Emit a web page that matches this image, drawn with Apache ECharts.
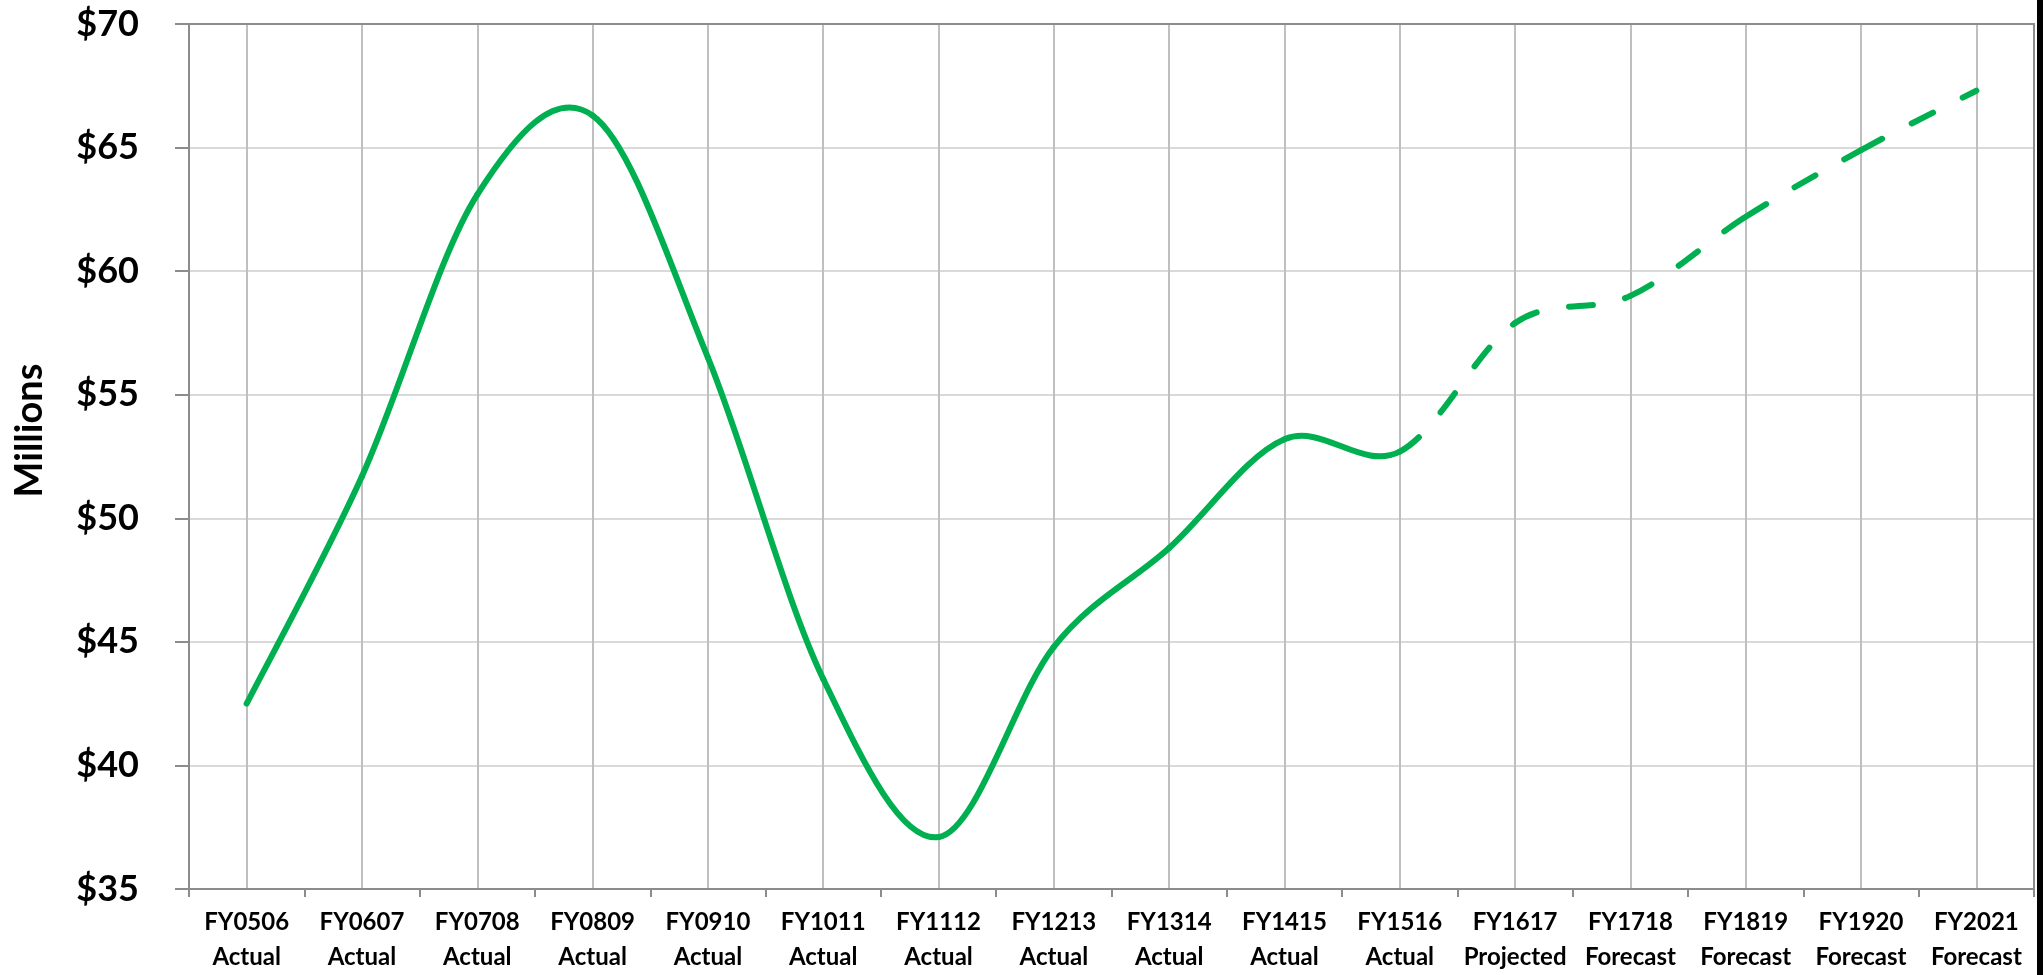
<!DOCTYPE html>
<html>
<head>
<meta charset="utf-8">
<script src="https://cdn.jsdelivr.net/npm/echarts@6/dist/echarts.min.js"></script>
<style>
  html, body { margin: 0; padding: 0; background: #fff; }
  #chart { width: 2043px; height: 975px; }
</style>
</head>
<body>
<div id="chart"></div>
<script>
// categories (two-line labels)
const years = ['FY0506', 'FY0607', 'FY0708', 'FY0809', 'FY0910', 'FY1011', 'FY1112', 'FY1213',
  'FY1314', 'FY1415', 'FY1516', 'FY1617', 'FY1718', 'FY1819', 'FY1920', 'FY2021'];
const kinds = ['Actual', 'Actual', 'Actual', 'Actual', 'Actual', 'Actual', 'Actual', 'Actual',
  'Actual', 'Actual', 'Actual', 'Projected', 'Forecast', 'Forecast', 'Forecast', 'Forecast'];
// $ millions
const actual = [42.5, 51.7, 63.1, 66.3, 56.5, 43.5, 37.1, 44.8, 48.8, 53.2, 52.7];
const outlook = [57.9, 59.0, 62.2, 64.9, 67.3];   // FY1617 .. FY2021
const yMin = 35, yMax = 70, yStep = 5;

const categories = years.map((y, i) => y + '\n' + kinds[i]);
const values = actual.concat(outlook);
const green = '#00b050';
const font = 'Lato';

// excel style smoothed line: one bezier per segment, dashed after the last actual
function renderSegment(params, api) {
  const i = params.dataIndex;
  const n = values.length;
  if (i >= n - 1) return null;
  const pt = k => {
    k = Math.max(0, Math.min(n - 1, k));
    return api.coord([k, values[k]]);
  };
  const p0 = pt(i - 1), p1 = pt(i), p2 = pt(i + 1), p3 = pt(i + 2);
  const dashed = i >= actual.length - 1;
  return {
    type: 'bezierCurve',
    silent: true,
    shape: {
      x1: p1[0], y1: p1[1],
      x2: p2[0], y2: p2[1],
      cpx1: p1[0] + (p2[0] - p0[0]) / 6, cpy1: p1[1] + (p2[1] - p0[1]) / 6,
      cpx2: p2[0] - (p3[0] - p1[0]) / 6, cpy2: p2[1] - (p3[1] - p1[1]) / 6
    },
    style: {
      fill: 'none',
      stroke: green,
      lineWidth: 6,
      lineCap: 'round',
      lineDash: dashed ? [24, 33] : null
    }
  };
}

const chart = echarts.init(document.getElementById('chart'));
chart.setOption({
  animation: false,
  textStyle: { fontFamily: font },
  grid: {
    left: 189, right: 9, top: 24, bottom: 86,
    show: true, z: 1,
    borderColor: '#8c8c8c', borderWidth: 2
  },
  graphic: [{
    type: 'rect', right: 0, top: 0, z: 10,
    shape: { width: 6, height: 975 },
    style: { fill: '#000' }
  }],
  xAxis: {
    type: 'category',
    data: categories,
    boundaryGap: true,
    axisLine: { lineStyle: { color: '#8c8c8c', width: 2 } },
    axisTick: { show: true, length: 8, lineStyle: { color: '#8c8c8c', width: 2 } },
    axisLabel: {
      interval: 0, margin: 16,
      fontFamily: font, fontWeight: 'bold', fontSize: 24, lineHeight: 35, color: '#000'
    },
    splitLine: { show: true, alignWithLabel: true, lineStyle: { color: '#bfbfbf', width: 2 } }
  },
  yAxis: {
    type: 'value',
    min: yMin, max: yMax, interval: yStep,
    name: 'Millions',
    nameLocation: 'middle',
    nameRotate: 90,
    nameGap: 140,
    nameTextStyle: {
      fontFamily: font, fontWeight: 'bold', fontSize: 38, color: '#000',
      padding: [0, 0, 0, 52]
    },
    axisLine: { show: true, lineStyle: { color: '#8c8c8c', width: 2 } },
    axisTick: { show: true, length: 14, lineStyle: { color: '#8c8c8c', width: 2 } },
    axisLabel: {
      margin: 50,
      formatter: v => '$' + v,
      fontFamily: font, fontWeight: 'bold', fontSize: 36, color: '#000'
    },
    splitLine: { show: true, lineStyle: { color: '#d9d9d9', width: 2 } }
  },
  series: [{
    name: 'Revenue',
    type: 'custom',
    z: 3,
    data: values.map((v, i) => [i, v]),
    encode: { x: 0, y: 1 },
    renderItem: renderSegment
  }]
});
</script>
</body>
</html>
